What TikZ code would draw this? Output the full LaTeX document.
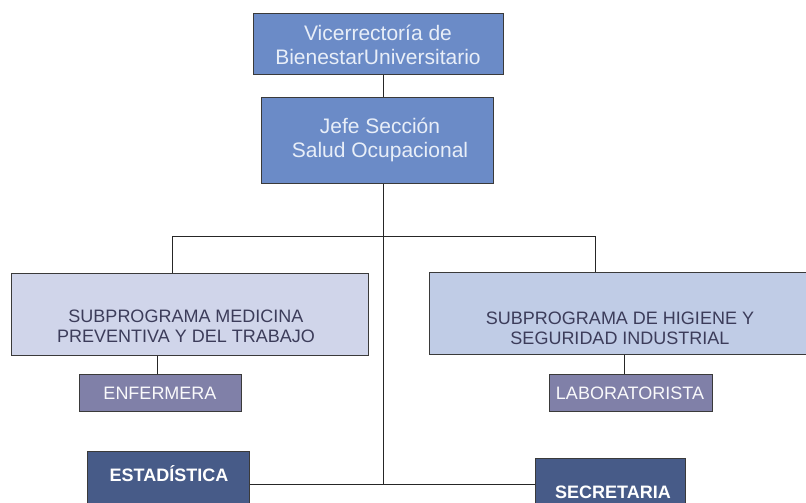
\documentclass[tikz,border=0pt]{standalone}
\usepackage{fontspec}
\setmainfont{Liberation Sans}
\definecolor{topblue}{HTML}{6B8BC7}
\definecolor{toptext}{HTML}{E8EEF8}
\definecolor{subleft}{HTML}{D0D5EA}
\definecolor{subright}{HTML}{C0CCE6}
\definecolor{subtext}{HTML}{3C3C5A}
\definecolor{purp}{HTML}{8080A8}
\definecolor{darkblue}{HTML}{475B88}
\definecolor{edge}{HTML}{3A3A3A}
\tikzset{
  box/.style={draw=edge, line width=0.9pt, inner sep=0pt, anchor=north west},
  conn/.style={draw=black!85, line width=0.8pt},
  toptxt/.style={text=toptext, align=center, font=\fontsize{21}{24}\selectfont},
  subtxt/.style={text=subtext, align=center, font=\fontsize{18}{20}\selectfont},
  purptxt/.style={text=white!95!purp, align=center, font=\fontsize{18}{20}\selectfont},
  boldtxt/.style={text=white, align=center, font=\bfseries\fontsize{18}{20}\selectfont},
}
\begin{document}
\begin{tikzpicture}[x=1pt,y=-1pt]
\useasboundingbox (0,0) rectangle (806,503);
\clip (0,0) rectangle (806,503);
% boxes
\node[box, fill=topblue, minimum width=250pt, minimum height=61pt] (vic) at (253,13) {};
\node[toptxt] (victxt) at (378,45) {Vicerrectoría de\\BienestarUniversitario};
\node[box, fill=topblue, minimum width=232pt, minimum height=86pt] (jefe) at (261,97) {};
\node[toptxt] (jefetxt) at (380,140) {Jefe Sección\\Salud Ocupacional};
\node[box, fill=subleft, minimum width=357pt, minimum height=82pt] (med) at (11,273) {};
\node[subtxt] (medtxt) at (186,326) {SUBPROGRAMA MEDICINA\\PREVENTIVA Y DEL TRABAJO};
\node[box, fill=subright, minimum width=400pt, minimum height=82pt] (hig) at (429,272) {};
\node[subtxt] (higtxt) at (620,328) {SUBPROGRAMA DE HIGIENE Y\\SEGURIDAD INDUSTRIAL};
\node[box, fill=purp, minimum width=162pt, minimum height=37pt] (enf) at (79,374) {};
\node[purptxt] (enftxt) at (160,393) {ENFERMERA};
\node[box, fill=purp, minimum width=163pt, minimum height=37pt] (lab) at (549,374) {};
\node[purptxt] (labtxt) at (630,393) {LABORATORISTA};
\node[box, fill=darkblue, minimum width=162pt, minimum height=70pt] (est) at (87,451) {};
\node[boldtxt] (esttxt) at (169,474) {ESTADÍSTICA};
\node[box, fill=darkblue, minimum width=150pt, minimum height=70pt] (sec) at (535,458) {};
\node[boldtxt] (sectxt) at (613,492) {SECRETARIA};
% connectors
\coordinate (bar) at (383,236);
\coordinate (barL) at (172,236);
\coordinate (barR) at (595,236);
\coordinate (low) at (383,484);
\draw[conn] (vic.south -| bar) -- (jefe.north -| bar);
\draw[conn] (jefe.south -| bar) -- (low);
\draw[conn] (barL) -- (barR);
\draw[conn] (barL) -- (barL |- med.north);
\draw[conn] (barR) -- (barR |- hig.north);
\draw[conn] (enf.north -| 157,0) -- (med.south -| 157,0);
\draw[conn] (lab.north -| 624,0) -- (hig.south -| 624,0);
\draw[conn] (est.east |- low) -- (sec.west |- low);
\end{tikzpicture}
\end{document}
